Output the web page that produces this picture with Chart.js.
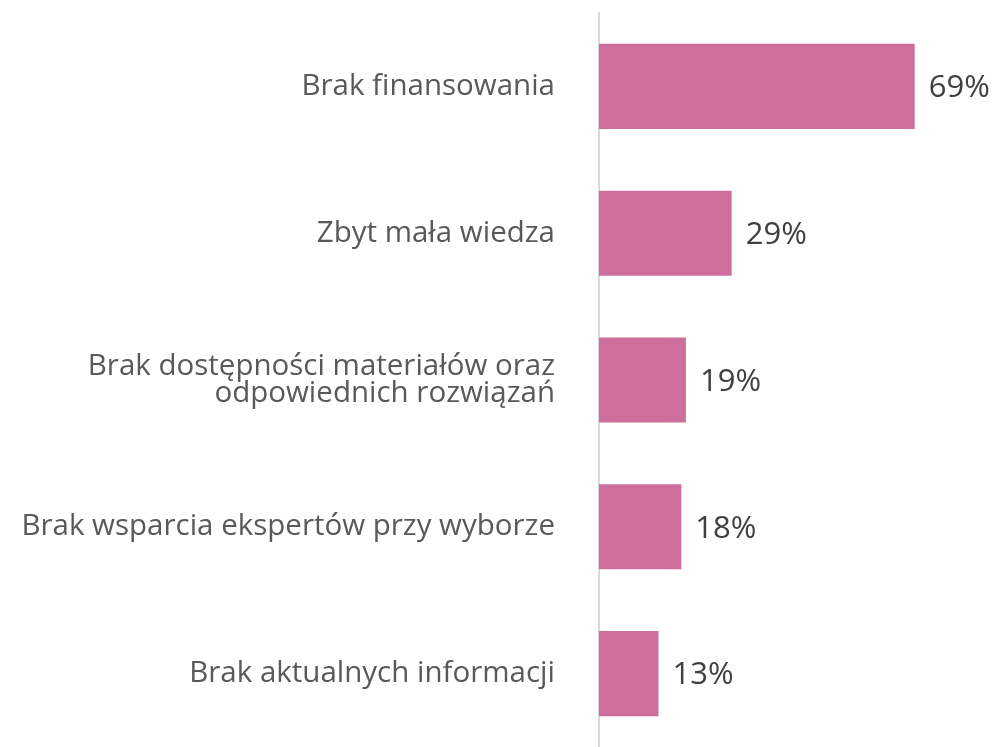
<!DOCTYPE html>
<html>
<head>
<meta charset="utf-8">
<script src="https://cdn.jsdelivr.net/npm/chart.js@4"></script>
<style>
  html, body { margin: 0; padding: 0; background: #fff; }
  #wrap { width: 995px; height: 747px; position: relative; }
</style>
</head>
<body>
<div id="wrap"><canvas id="chart"></canvas></div>
<script>
const categories = [
  'Brak finansowania',
  'Zbyt mała wiedza',
  ['Brak dostępności materiałów oraz', 'odpowiednich rozwiązań'],
  'Brak wsparcia ekspertów przy wyborze',
  'Brak aktualnych informacji'
];
const shares = [69, 29, 19, 18, 13];

const barColor = '#ce6e9c';

// draws the "69%" style labels just right of each bar
const valueLabels = {
  id: 'valueLabels',
  afterDatasetsDraw(chart) {
    const ctx = chart.ctx;
    const meta = chart.getDatasetMeta(0);
    ctx.save();
    ctx.font = '31px "Open Sans", sans-serif';
    ctx.fillStyle = '#404040';
    ctx.textAlign = 'left';
    ctx.textBaseline = 'middle';
    meta.data.forEach((bar, i) => {
      ctx.fillText(shares[i] + '%', bar.x + 14, bar.y + 2);
    });
    ctx.restore();
  }
};

new Chart(document.getElementById('chart'), {
  type: 'bar',
  data: {
    labels: categories,
    datasets: [{
      data: shares,
      backgroundColor: barColor,
      categoryPercentage: 1,
      barPercentage: 0.58
    }]
  },
  options: {
    indexAxis: 'y',
    responsive: true,
    maintainAspectRatio: false,
    animation: false,
    layout: { padding: { top: 13, right: 30, bottom: 0, left: 0 } },
    plugins: {
      legend: { display: false },
      tooltip: { enabled: false }
    },
    scales: {
      x: {
        display: false,
        min: 0,
        max: 80
      },
      y: {
        afterFit: (scale) => {
          scale.width = 599;
          scale.paddingTop = 0;
          scale.paddingBottom = 0;
        },
        grid: { display: false, drawTicks: false },
        border: { display: true, color: '#d9d9d9', width: 2 },
        ticks: {
          padding: 44,
          color: '#595959',
          font: { family: '"Open Sans", sans-serif', size: 29.5, lineHeight: 0.92 }
        }
      }
    }
  },
  plugins: [valueLabels]
});
</script>
</body>
</html>
